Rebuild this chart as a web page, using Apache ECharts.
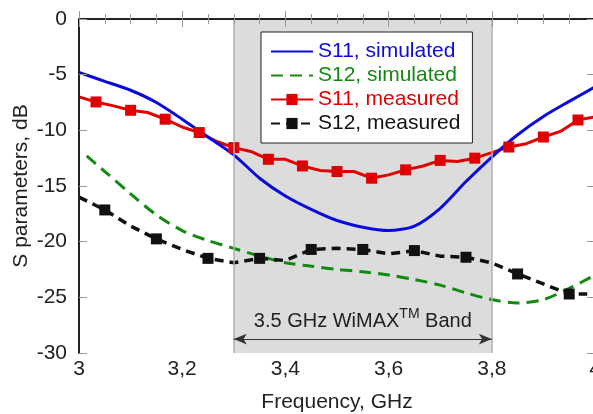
<!DOCTYPE html>
<html>
<head>
<meta charset="utf-8">
<script src="https://cdn.jsdelivr.net/npm/echarts@6/dist/echarts.min.js"></script>
<style>
html,body{margin:0;padding:0;background:#fff;}
#chart{width:593px;height:414px;}
</style>
</head>
<body>
<div id="chart"></div>
<script>
// ---- data ----
const xTickLabels = ['3', '3,2', '3,4', '3,6', '3,8', '4'];
const yTickLabels = ['0', '-5', '-10', '-15', '-20', '-25', '-30'];

const simFreq = [3.0, 3.05, 3.1, 3.15, 3.2, 3.25, 3.3, 3.35, 3.4, 3.45, 3.5, 3.55, 3.6, 3.65, 3.7, 3.75, 3.8, 3.85, 3.9, 3.95, 4.0];
const s11Sim = [-4.8, -5.6, -6.4, -7.5, -9.0, -10.6, -12.2, -14.3, -15.9, -17.1, -18.1, -18.7, -19.0, -18.6, -17.0, -14.6, -12.4, -10.4, -8.75, -7.4, -6.1];

const s12SimFreq = [3.015, 3.05, 3.1, 3.15, 3.2, 3.25, 3.3, 3.35, 3.4, 3.45, 3.5, 3.55, 3.6, 3.65, 3.7, 3.75, 3.8, 3.85, 3.9, 3.95, 4.0];
const s12Sim = [-12.3, -13.7, -15.7, -17.6, -19.0, -19.9, -20.6, -21.3, -21.9, -22.2, -22.5, -22.7, -23.0, -23.4, -23.9, -24.6, -25.2, -25.5, -25.2, -24.2, -23.0];

const s11MeasFreq = [3.0, 3.033, 3.067, 3.1, 3.133, 3.167, 3.2, 3.233, 3.267, 3.3, 3.333, 3.367, 3.4, 3.433, 3.467, 3.5, 3.533, 3.567, 3.6, 3.633, 3.667, 3.7, 3.733, 3.767, 3.8, 3.833, 3.867, 3.9, 3.933, 3.967, 4.0];
const s11Meas = [-7.0, -7.45, -7.8, -8.2, -8.4, -9.0, -9.7, -10.2, -11.0, -11.55, -11.9, -12.6, -12.6, -13.2, -13.6, -13.7, -13.7, -14.3, -14.0, -13.55, -13.2, -12.7, -12.8, -12.5, -12.0, -11.5, -11.2, -10.6, -10.1, -9.07, -8.8];
const s11MeasMarker = [0,1,0,1,0,1,0,1,0,1,0,1,0,1,0,1,0,1,0,1,0,1,0,1,0,1,0,1,0,1,0];

const s12MeasFreq = [3.0, 3.05, 3.1, 3.15, 3.2, 3.25, 3.3, 3.35, 3.4, 3.45, 3.5, 3.55, 3.6, 3.65, 3.7, 3.75, 3.8, 3.85, 3.9, 3.95, 3.985];
const s12Meas = [-16.0, -17.15, -18.6, -19.75, -20.7, -21.5, -21.9, -21.5, -21.7, -20.7, -20.6, -20.7, -21.1, -20.8, -21.3, -21.4, -21.9, -22.9, -23.8, -24.7, -24.7];
const s12MeasMarker = [0,1,0,1,0,1,0,1,0,1,0,1,0,1,0,1,0,1,0,1,0];

const bandStart = 3.3, bandEnd = 3.8, arrowLevel = -28.75;

// ---- build ----
const FONT = '"Liberation Sans", Arial, sans-serif';
const pairs = (xs, ys) => xs.map((x, i) => [x, ys[i]]);
const markedPairs = (xs, ys, m) => xs.map((x, i) => m[i] ? { value: [x, ys[i]] } : { value: [x, ys[i]], symbol: 'none' });

const xLabelFmt = v => {
  const idx = Math.round((v - 3) / 0.2);
  return xTickLabels[idx] !== undefined ? xTickLabels[idx] : '';
};
const yLabelFmt = v => {
  const idx = Math.round(-v / 5);
  return yTickLabels[idx] !== undefined ? yTickLabels[idx] : '';
};

const axisLineStyle = { color: '#222', width: 2 };
const chart = echarts.init(document.getElementById('chart'), null, { renderer: 'canvas' });

const option = {
  backgroundColor: '#ffffff',
  animation: false,
  textStyle: { fontFamily: FONT },
  grid: { left: 79, top: 19, width: 516, height: 334, containLabel: false, outerBoundsMode: 'none' },
  legend: {
    left: 261, top: 32,
    orient: 'vertical',
    backgroundColor: '#ffffff',
    borderColor: '#222', borderWidth: 1,
    padding: [9, 12, 9, 9],
    itemWidth: 42, itemHeight: 14, itemGap: 3,
    textStyle: { fontSize: 21, fontFamily: FONT },
    data: [
      { name: 'S11, simulated', itemStyle: { opacity: 0 }, textStyle: { color: '#0a0adc' } },
      { name: 'S12, simulated', itemStyle: { opacity: 0 }, textStyle: { color: '#128a12' } },
      { name: 'S11, measured', textStyle: { color: '#e00000' } },
      { name: 'S12, measured', textStyle: { color: '#111111' } }
    ]
  },
  xAxis: [{
    type: 'value', min: 3, max: 4, interval: 0.2, z: 5,
    axisLine: { show: true, lineStyle: axisLineStyle },
    axisTick: { show: true, inside: true, length: 8, lineStyle: { color: '#999', width: 1 } },
    minorTick: { show: true, splitNumber: 4, length: 5, lineStyle: { color: '#999', width: 1 } },
    splitLine: { show: false },
    axisLabel: { formatter: xLabelFmt, fontSize: 21, color: '#222', margin: 6, fontFamily: FONT },
    name: 'Frequency, GHz', nameLocation: 'middle', nameGap: 39, nameMoveOverlap: false,
    nameTextStyle: { fontSize: 21, color: '#222', fontFamily: FONT }
  }, {
    type: 'value', min: 3, max: 4, interval: 0.2, position: 'top', z: 5,
    axisLine: { show: true, lineStyle: axisLineStyle },
    axisTick: { show: true, inside: true, length: 8, lineStyle: { color: '#999', width: 1 } },
    minorTick: { show: true, splitNumber: 4, length: 5, lineStyle: { color: '#999', width: 1 } },
    splitLine: { show: false },
    axisLabel: { show: false }
  }],
  yAxis: [{
    type: 'value', min: -30, max: 0, interval: 5, z: 5,
    axisLine: { show: true, lineStyle: axisLineStyle },
    axisTick: { show: true, inside: true, length: 8, lineStyle: { color: '#999', width: 1 } },
    splitLine: { show: false },
    axisLabel: { formatter: yLabelFmt, fontSize: 21, color: '#222', margin: 12, fontFamily: FONT },
    name: 'S parameters, dB', nameLocation: 'middle', nameGap: 47, nameMoveOverlap: false,
    nameTextStyle: { fontSize: 21, color: '#222', fontFamily: FONT }
  }, {
    type: 'value', min: -30, max: 0, interval: 5, position: 'right', z: 5,
    axisLine: { show: true, lineStyle: axisLineStyle },
    axisTick: { show: true, inside: true, length: 8, lineStyle: { color: '#999', width: 1 } },
    splitLine: { show: false },
    axisLabel: { show: false }
  }],
  series: [
    {
      name: 'S12, simulated', type: 'line',
      data: pairs(s12SimFreq, s12Sim),
      showSymbol: false, symbol: 'none', smooth: 0.3,
      lineStyle: { color: '#128a12', width: 3, type: [12, 7] },
      itemStyle: { color: '#128a12' },
      z: 3,
      markArea: {
        silent: true,
        itemStyle: { color: '#dcdcdc' },
        data: [[{ xAxis: bandStart }, { xAxis: bandEnd }]]
      },
      markLine: {
        silent: true, symbol: 'none',
        lineStyle: { color: '#b0b0b0', width: 1.5, type: 'solid' },
        label: { show: false },
        data: [{ xAxis: bandStart }, { xAxis: bandEnd }]
      }
    },
    {
      name: 'S12, measured', type: 'line',
      data: markedPairs(s12MeasFreq, s12Meas, s12MeasMarker),
      symbol: 'rect', symbolSize: 11, showSymbol: true,
      lineStyle: { color: '#111', width: 3.5, type: [9, 6] },
      itemStyle: { color: '#111' },
      z: 4,
      markLine: {
        silent: true,
        symbol: ['arrow', 'arrow'], symbolSize: [8, 13],
        lineStyle: { color: '#333', width: 1, type: 'solid' },
        label: {
          show: true, position: 'middle', distance: 4,
          formatter: '{a|3.5 GHz WiMAX}{s|TM}{a| Band}',
          rich: {
            a: { fontSize: 20, color: '#222', lineHeight: 28, fontFamily: FONT },
            s: { fontSize: 14, color: '#222', lineHeight: 14, verticalAlign: 'top', fontFamily: FONT }
          }
        },
        data: [[{ coord: [bandStart, arrowLevel] }, { coord: [bandEnd, arrowLevel] }]]
      }
    },
    {
      name: 'S11, measured', type: 'line',
      data: markedPairs(s11MeasFreq, s11Meas, s11MeasMarker),
      symbol: 'rect', symbolSize: 11, showSymbol: true,
      lineStyle: { color: '#e00000', width: 3 },
      itemStyle: { color: '#e00000' },
      z: 4
    },
    {
      name: 'S11, simulated', type: 'line',
      data: pairs(simFreq, s11Sim),
      showSymbol: false, symbol: 'none', smooth: 0.25,
      lineStyle: { color: '#0a0adc', width: 3 },
      itemStyle: { color: '#0a0adc' },
      z: 4
    }
  ]
};
chart.setOption(option);
</script>
</body>
</html>
